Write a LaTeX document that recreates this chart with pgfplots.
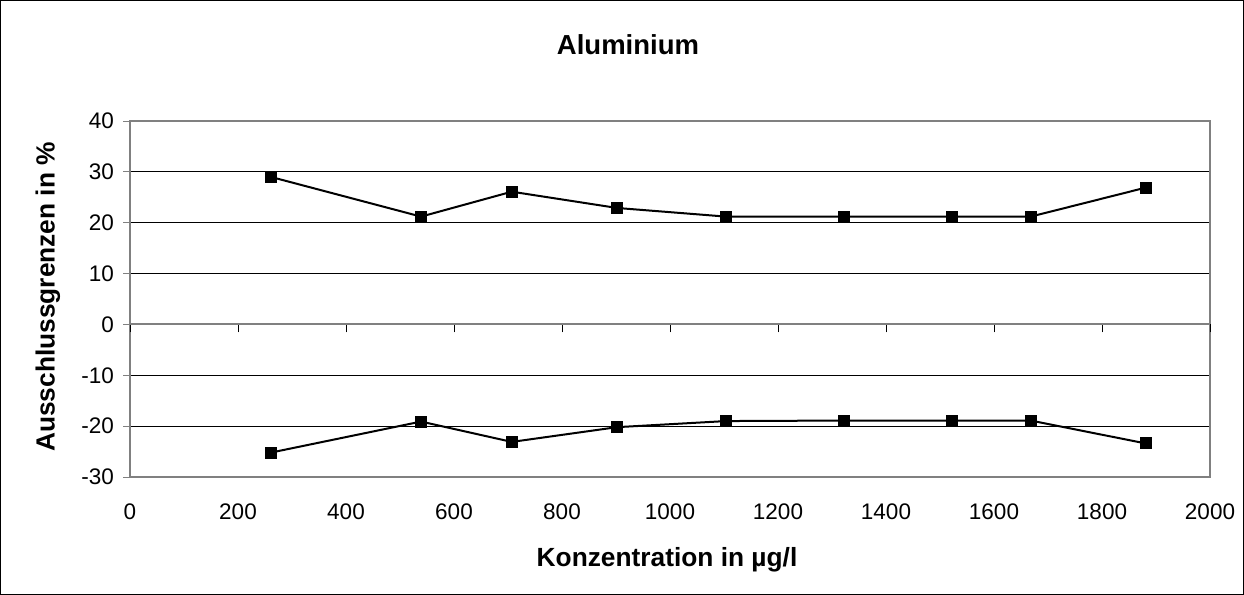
\documentclass[border=0pt]{standalone}
\usepackage{pgfplots}
\pgfplotsset{compat=1.18}
\usepackage{fontspec}
\setmainfont{Liberation Sans}
\definecolor{axgray}{HTML}{808080}

\begin{document}
\begin{tikzpicture}
\useasboundingbox (0,0) rectangle (622bp,297.5bp);
\draw[black, line width=0.6bp] (0.4bp,0.4bp) rectangle (621.6bp,297.1bp);

% main axis: frame, grid, y ticks, x tick labels, data
\begin{axis}[
  at={(65bp,59bp)}, anchor=south west,
  scale only axis, width=540bp, height=178bp,
  xmin=0, xmax=2000, ymin=-30, ymax=40,
  xtick={0,200,...,2000}, ytick={-30,-20,...,40},
  ymajorgrids, grid style={black, line width=0.5bp},
  axis line style={draw=axgray, line width=1bp},
  xtick style={draw=none},
  ytick pos=left, tick align=outside,
  major tick length=3.5bp,
  ytick style={draw=axgray, line width=0.5bp},
  ticklabel style={font=\fontsize{11.3}{13}\selectfont},
  /pgf/number format/assume math mode=true,
  /pgf/number format/1000 sep={},
  xticklabel style={yshift=-6.5bp},
  yticklabel style={xshift=-1bp},
]
\addplot[black, line width=1bp, mark=square*, mark size=2.5bp,
  mark options={solid, fill=black}] coordinates {
  (261,29.0) (539,21.2) (707,26.1) (902,22.9) (1104,21.2)
  (1322,21.2) (1522,21.2) (1668,21.2) (1881,26.9)
};
\addplot[black, line width=1bp, mark=square*, mark size=2.5bp,
  mark options={solid, fill=black}] coordinates {
  (261,-25.2) (539,-19.1) (707,-23.1) (902,-20.2) (1104,-19.0)
  (1322,-18.9) (1522,-18.9) (1668,-18.9) (1881,-23.4)
};
\end{axis}

% overlay axis: the category axis line at y=0 with its tick marks
\begin{axis}[
  at={(65bp,59bp)}, anchor=south west,
  scale only axis, width=540bp, height=178bp,
  xmin=0, xmax=2000, ymin=-30, ymax=40,
  axis x line=middle, axis y line=none,
  x axis line style={draw=axgray, line width=1bp, -},
  xtick={0,200,...,2000}, xticklabels={}, ytick=\empty,
  tick align=outside, major tick length=4bp,
  xtick style={draw=black, line width=0.5bp},
]
\end{axis}

\node[anchor=base, font=\bfseries\fontsize{13.8}{16}\selectfont] at (314bp,270bp) {Aluminium};
\node[anchor=base, font=\bfseries\fontsize{13.2}{16}\selectfont] at (333.5bp,14.5bp) {Konzentration in µg/l};
\node[rotate=90, font=\bfseries\fontsize{13.2}{16}\selectfont] at (24bp,149bp) {Ausschlussgrenzen in \%};
\end{tikzpicture}
\end{document}
